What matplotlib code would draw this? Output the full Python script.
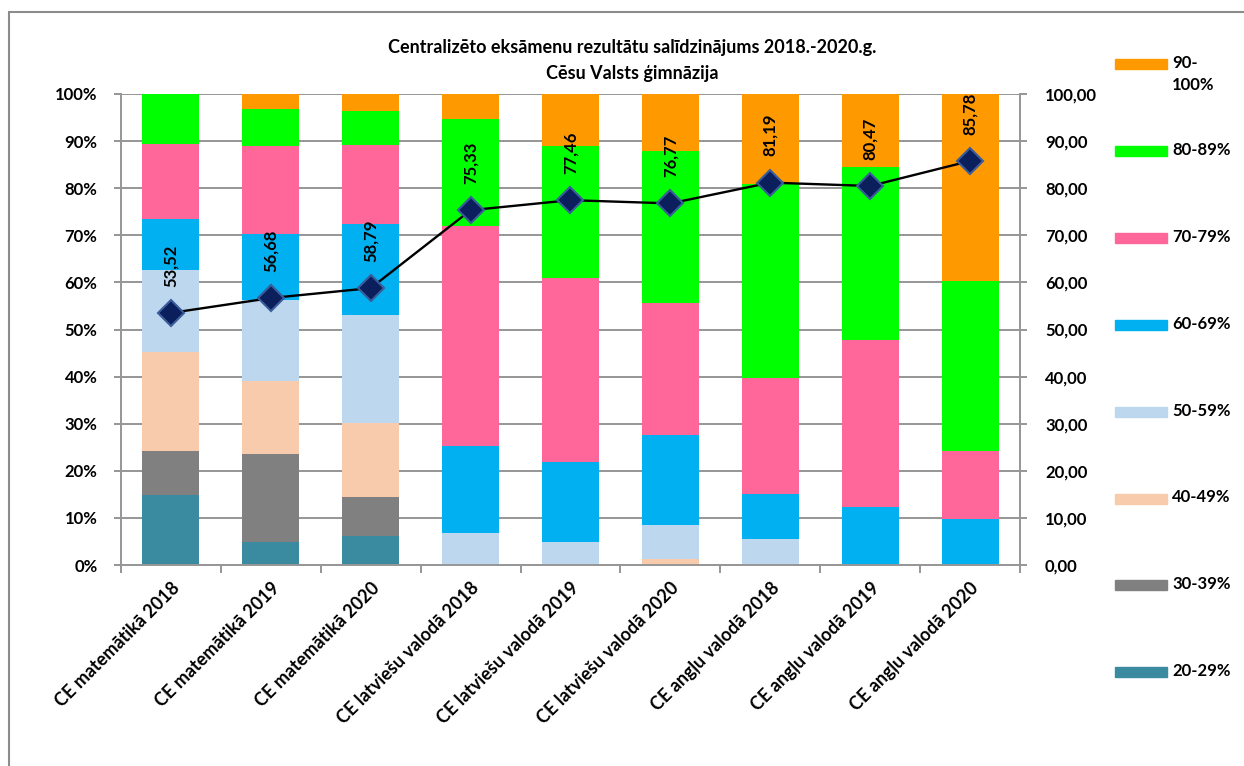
import numpy as np
import matplotlib
matplotlib.use("Agg")
import matplotlib.pyplot as plt
from matplotlib.patches import Rectangle
from matplotlib.ticker import FuncFormatter, FixedLocator

plt.rcParams["font.family"] = ["Lato", "DejaVu Sans"]

# ── data ─────────────────────────────────────────────────────────────────────
categories = ["CE matemātikā 2018", "CE matemātikā 2019", "CE matemātikā 2020",
              "CE latviešu valodā 2018", "CE latviešu valodā 2019",
              "CE latviešu valodā 2020", "CE angļu valodā 2018",
              "CE angļu valodā 2019", "CE angļu valodā 2020"]

s20_29 = [14.8, 4.8, 6.2, 0, 0, 0, 0, 0, 0]
s30_39 = [9.3, 18.7, 8.3, 0, 0, 0, 0, 0, 0]
s40_49 = [21.2, 15.6, 15.6, 0, 0, 1.3, 0, 0, 0]
s50_59 = [17.3, 17.2, 23.0, 6.7, 4.8, 7.2, 5.6, 0, 0]
s60_69 = [10.8, 14.0, 19.2, 18.6, 17.1, 19.2, 9.5, 12.4, 9.7]
s70_79 = [15.9, 18.7, 16.9, 46.7, 39.1, 27.9, 24.7, 35.4, 14.5]
s80_89 = [10.7, 7.8, 7.2, 22.6, 28.0, 32.3, 41.0, 36.8, 36.0]
s90_100 = [0, 3.2, 3.6, 5.4, 11.0, 12.1, 19.2, 15.4, 39.8]

avg_score = [53.52, 56.68, 58.79, 75.33, 77.46, 76.77, 81.19, 80.47, 85.78]

series_labels = ["20-29%", "30-39%", "40-49%", "50-59%",
                 "60-69%", "70-79%", "80-89%", "90-\n100%"]
series_colors = ["#3A8AA0", "#808080", "#F8CBAD", "#BDD7EE",
                 "#00B0F0", "#FF6699", "#00FF00", "#FF9900"]

# ── figure ───────────────────────────────────────────────────────────────────
W, H = 1244, 766
fig = plt.figure(figsize=(W / 100, H / 100), dpi=100)
ax = fig.add_axes([121 / W, 1 - 565 / H, (1020 - 121) / W, (565 - 94) / H])

series = np.array([s20_29, s30_39, s40_49, s50_59, s60_69, s70_79, s80_89, s90_100])
series = series / series.sum(axis=0) * 100
x = np.arange(len(categories))
bottom = np.zeros(len(categories))
for vals, col in zip(series, series_colors):
    ax.bar(x, vals, width=0.57, bottom=bottom, color=col, zorder=2)
    bottom += vals

grid_col = "#969696"
ax.set_xlim(-0.5, len(categories) - 0.5)
ax.set_ylim(0, 100)
ax.set_yticks(np.arange(0, 101, 10))
ax.yaxis.set_major_formatter(FuncFormatter(lambda v, p: f"{v:.0f}%"))
ax.yaxis.grid(True, color=grid_col, lw=1.4, zorder=0)
ax.set_axisbelow(True)
ax.set_xticks(x)
ax.set_xticklabels(categories, rotation=45, ha="right", rotation_mode="anchor",
                   fontsize=13, fontweight="bold")
ax.tick_params(axis="x", length=0, pad=10)
ax.xaxis.set_minor_locator(FixedLocator(np.arange(-0.5, len(categories), 1)))
ax.tick_params(axis="x", which="minor", length=6, color=grid_col, width=1.4)
ax.tick_params(axis="y", length=5, color=grid_col, width=1.4, pad=12,
               labelsize=12)
for lab in ax.get_yticklabels():
    lab.set_fontweight("bold")
for side in ["left", "bottom"]:
    ax.spines[side].set_color(grid_col)
    ax.spines[side].set_linewidth(1.4)
ax.spines["top"].set_visible(False)
ax.spines["right"].set_visible(False)

# ── average score line on secondary axis ─────────────────────────────────────
ax2 = ax.twinx()
ax2.set_ylim(0, 100)
ax2.set_yticks(np.arange(0, 101, 10))
ax2.yaxis.set_major_formatter(FuncFormatter(lambda v, p: f"{v:.2f}".replace(".", ",")))
ax2.tick_params(axis="y", length=5, color=grid_col, width=1.4, pad=13,
                labelsize=12)
for lab in ax2.get_yticklabels():
    lab.set_fontweight("bold")
for side in ["left", "top", "bottom"]:
    ax2.spines[side].set_visible(False)
ax2.spines["right"].set_color(grid_col)
ax2.spines["right"].set_linewidth(1.4)

ax2.plot(x, avg_score, color="black", lw=1.7, marker="D", markersize=13.5,
         markerfacecolor="#0A1F5C", markeredgecolor="#3A5C9A",
         markeredgewidth=1.5, zorder=5)
for xi, v in zip(x, avg_score):
    ax2.annotate(f"{v:.2f}".replace(".", ","), (xi, v), xytext=(0, 19),
                 textcoords="offset points", rotation=90, ha="center",
                 va="bottom", fontsize=12, fontweight="bold")

# ── title ────────────────────────────────────────────────────────────────────
fig.text(632 / W, 1 - 48 / H, "Centralizēto eksāmenu rezultātu salīdzinājums 2018.-2020.g.",
         ha="center", va="center", fontsize=13, fontweight="bold")
fig.text(632 / W, 1 - 73 / H, "Cēsu Valsts ģimnāzija",
         ha="center", va="center", fontsize=13, fontweight="bold")

# ── legend (right side, top to bottom) ───────────────────────────────────────
for i, (lab, col) in enumerate(zip(series_labels[::-1], series_colors[::-1])):
    yc = 64 + i * 86.9
    fig.patches.append(Rectangle((1115 / W, 1 - (yc + 5) / H), 52 / W, 10 / H,
                                 transform=fig.transFigure, color=col))
    fig.text(1172 / W, 1 - (yc - 9) / H, lab, ha="left", va="top",
             fontsize=12, fontweight="bold", linespacing=1.5)

# chart border
fig.patches.append(Rectangle((9 / W, -0.1), 2, 1 - 12 / H + 0.1,
                             transform=fig.transFigure, fill=False,
                             edgecolor="#8C8C8C", lw=1.5))

fig.savefig("out.png", dpi=100)
